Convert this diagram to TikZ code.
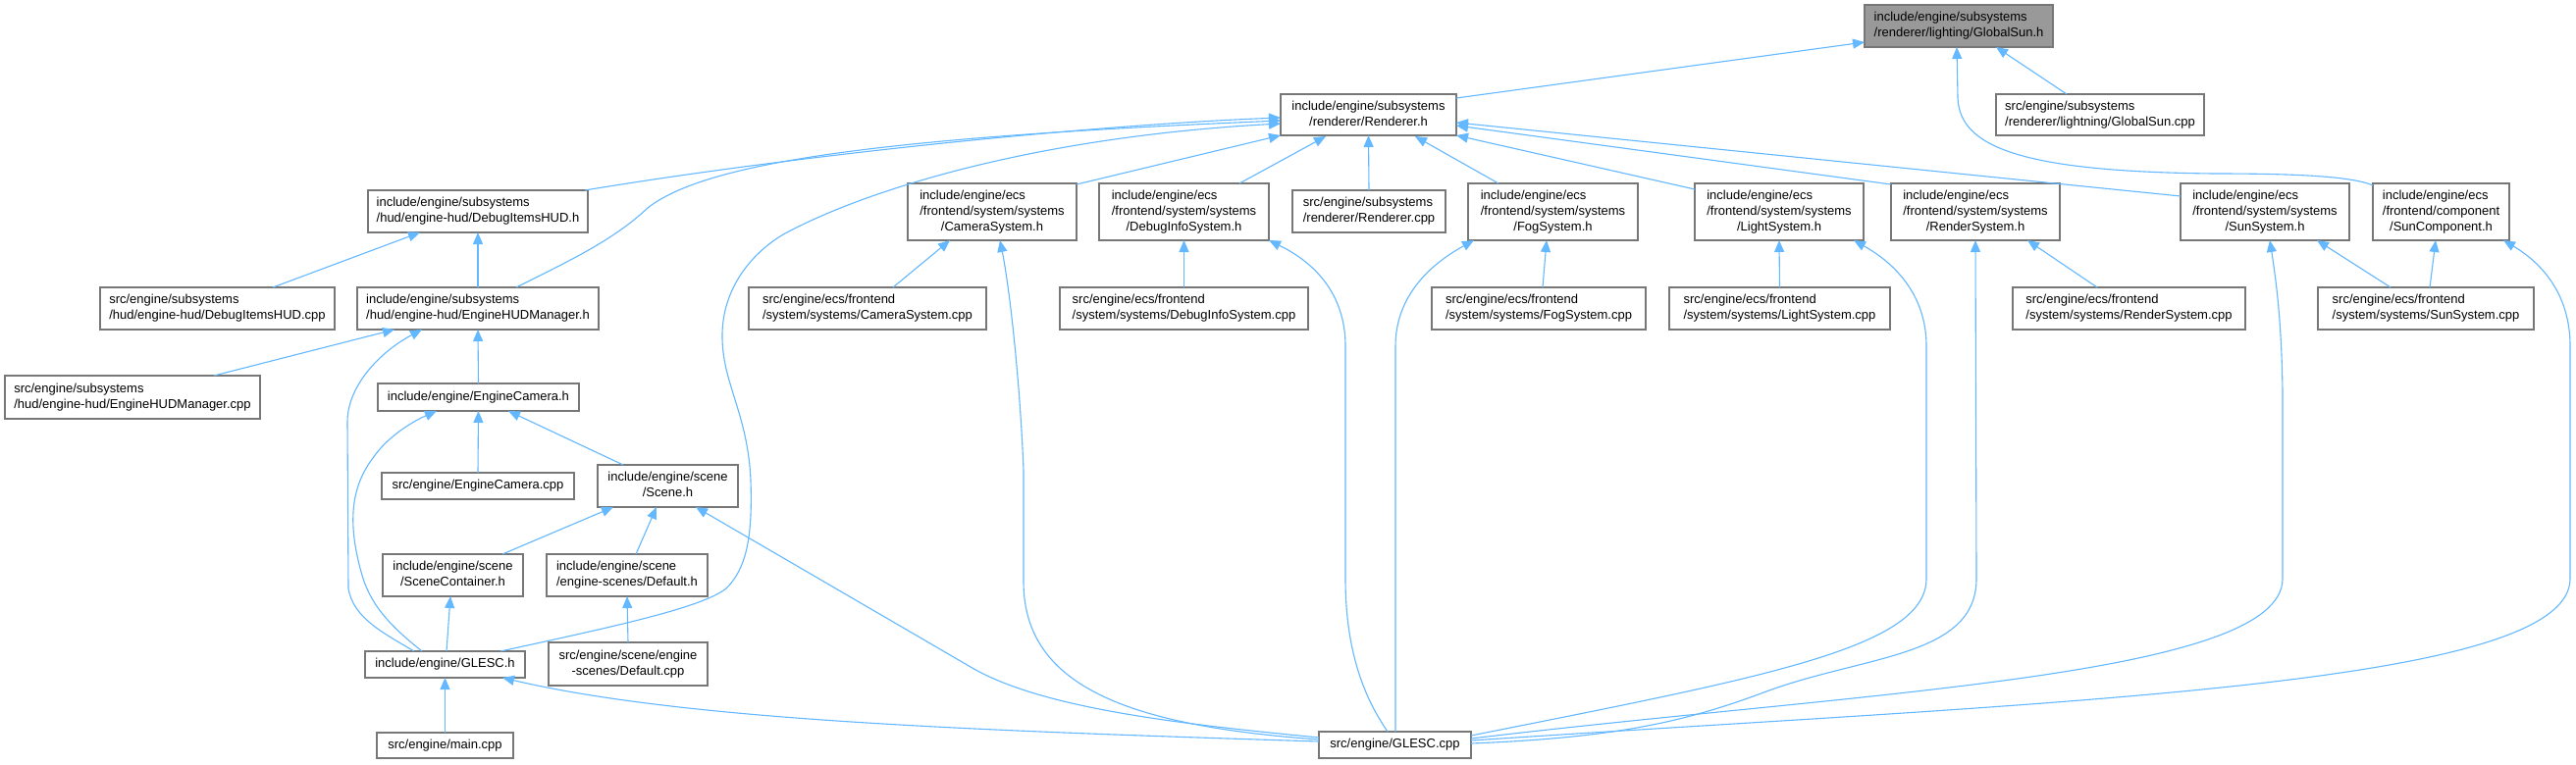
\documentclass[tikz,border=0pt]{standalone}
\usepackage{fontspec}
\setmainfont{Liberation Sans}
\usetikzlibrary{arrows.meta,calc}
\definecolor{edgec}{HTML}{63B8FF}
\definecolor{boxc}{HTML}{777777}
\definecolor{hlc}{HTML}{999999}
\newcommand{\Ltwo}[2]{\begin{tabular}{@{}l@{}}#1\\\multicolumn{1}{@{}c@{}}{#2}\end{tabular}}
\newcommand{\Lthree}[3]{\begin{tabular}{@{}l@{}}#1\\#2\\\multicolumn{1}{@{}c@{}}{#3}\end{tabular}}
\begin{document}
\begin{tikzpicture}[x=1pt,y=-1pt,
  nbox/.style={draw=boxc, line width=1.3pt, fill=white, inner sep=0pt, outer sep=0pt,
    anchor=north west, font=\fontsize{13}{16}\selectfont, text=black},
  dep/.style={draw=edgec, line width=1.1pt, -{Triangle[length=12pt,width=10pt]}},
]
\fill[white] (0,0) rectangle (2625,779);
\useasboundingbox (0,0) rectangle (2625,779);

% nodes
\node[nbox,fill=hlc,minimum width=192pt,minimum height=43pt] (gs) at (1900,5) {\Ltwo{include/engine/subsystems}{/renderer/lighting/GlobalSun.h}};
\node[nbox,minimum width=179pt,minimum height=42pt] (rend) at (1305,96) {\Ltwo{include/engine/subsystems}{/renderer/Renderer.h}};
\node[nbox,minimum width=212pt,minimum height=42pt] (gscpp) at (2034,96) {\Ltwo{src/engine/subsystems}{/renderer/lightning/GlobalSun.cpp}};
\node[nbox,minimum width=224pt,minimum height=43pt] (dihud) at (375,194) {\Ltwo{include/engine/subsystems}{/hud/engine-hud/DebugItemsHUD.h}};
\node[nbox,minimum width=172pt,minimum height=58pt] (camsys) at (925,187) {\Lthree{include/engine/ecs}{/frontend/system/systems}{/CameraSystem.h}};
\node[nbox,minimum width=173pt,minimum height=58pt] (dbgsys) at (1120,187) {\Lthree{include/engine/ecs}{/frontend/system/systems}{/DebugInfoSystem.h}};
\node[nbox,minimum width=156pt,minimum height=43pt] (rendcpp) at (1317,194) {\Ltwo{src/engine/subsystems}{/renderer/Renderer.cpp}};
\node[nbox,minimum width=173pt,minimum height=58pt] (fog) at (1496,187) {\Lthree{include/engine/ecs}{/frontend/system/systems}{/FogSystem.h}};
\node[nbox,minimum width=172pt,minimum height=58pt] (light) at (1727,187) {\Lthree{include/engine/ecs}{/frontend/system/systems}{/LightSystem.h}};
\node[nbox,minimum width=172pt,minimum height=58pt] (rsys) at (1927,187) {\Lthree{include/engine/ecs}{/frontend/system/systems}{/RenderSystem.h}};
\node[nbox,minimum width=172pt,minimum height=58pt] (sun) at (2222,187) {\Lthree{include/engine/ecs}{/frontend/system/systems}{/SunSystem.h}};
\node[nbox,minimum width=139pt,minimum height=58pt] (sunc) at (2418,187) {\Lthree{include/engine/ecs}{/frontend/component}{/SunComponent.h}};
\node[nbox,minimum width=239pt,minimum height=43pt] (dihudcpp) at (102,293) {\Ltwo{src/engine/subsystems}{/hud/engine-hud/DebugItemsHUD.cpp}};
\node[nbox,minimum width=246pt,minimum height=43pt] (ehm) at (364,293) {\Ltwo{include/engine/subsystems}{/hud/engine-hud/EngineHUDManager.h}};
\node[nbox,minimum width=242pt,minimum height=43pt] (camcpp) at (763,293) {\Ltwo{src/engine/ecs/frontend}{/system/systems/CameraSystem.cpp}};
\node[nbox,minimum width=253pt,minimum height=43pt] (dbgcpp) at (1080,293) {\Ltwo{src/engine/ecs/frontend}{/system/systems/DebugInfoSystem.cpp}};
\node[nbox,minimum width=218pt,minimum height=43pt] (fogcpp) at (1459,293) {\Ltwo{src/engine/ecs/frontend}{/system/systems/FogSystem.cpp}};
\node[nbox,minimum width=225pt,minimum height=43pt] (lightcpp) at (1701,293) {\Ltwo{src/engine/ecs/frontend}{/system/systems/LightSystem.cpp}};
\node[nbox,minimum width=237pt,minimum height=43pt] (rsyscpp) at (2051,293) {\Ltwo{src/engine/ecs/frontend}{/system/systems/RenderSystem.cpp}};
\node[nbox,minimum width=220pt,minimum height=43pt] (suncpp) at (2362,293) {\Ltwo{src/engine/ecs/frontend}{/system/systems/SunSystem.cpp}};
\node[nbox,minimum width=260pt,minimum height=44pt] (ehmcpp) at (5,383) {\Ltwo{src/engine/subsystems}{/hud/engine-hud/EngineHUDManager.cpp}};
\node[nbox,minimum width=205pt,minimum height=28pt] (ecam) at (385,391) {include/engine/EngineCamera.h};
\node[nbox,minimum width=196pt,minimum height=27pt] (ecamcpp) at (389,482) {src/engine/EngineCamera.cpp};
\node[nbox,minimum width=143pt,minimum height=43pt] (scene) at (609,474) {\Ltwo{include/engine/scene}{/Scene.h}};
\node[nbox,minimum width=143pt,minimum height=43pt] (scont) at (390,565) {\Ltwo{include/engine/scene}{/SceneContainer.h}};
\node[nbox,minimum width=164pt,minimum height=43pt] (defh) at (557,565) {\Ltwo{include/engine/scene}{/engine-scenes/Default.h}};
\node[nbox,minimum width=163pt,minimum height=27pt] (glesch) at (372,664) {include/engine/GLESC.h};
\node[nbox,minimum width=162pt,minimum height=44pt] (defcpp) at (559,655) {\Ltwo{src/engine/scene/engine}{-scenes/Default.cpp}};
\node[nbox,minimum width=139pt,minimum height=26pt] (maincpp) at (384,747) {src/engine/main.cpp};
\node[nbox,minimum width=155pt,minimum height=27pt] (glesccpp) at (1344,746) {src/engine/GLESC.cpp};

% edges
\draw[dep] ($(rend.north east)+(0,4)$) -- ($(gs.north west)+(0,38)$);
\draw[dep] ($(gscpp.north west)+(72,0)$) -- ($(gs.north west)+(134,43)$);
\draw[dep] ($(sunc.north west)+(0,2)$) .. controls (2395,179) and (2330,177) .. (2256,177) .. controls (2060,175) and (1997,150) .. (1995,100) -- ($(gs.north west)+(94,43)$);

\draw[dep] ($(dihud.north west)+(221,0)$) .. controls (800,160) and (1100,128) .. ($(rend.north west)+(0,24)$);
\draw[dep] ($(ehm.north west)+(162,0)$) .. controls (580,266) and (625,245) .. (660,212) .. controls (720,165) and (900,140) .. ($(rend.north west)+(0,27)$);
\draw[dep] ($(glesch.north west)+(138,0)$) .. controls (620,640) and (715,620) .. (740,600) .. controls (760,580) and (767,550) .. (765,490) .. controls (762,420) and (735,390) .. (736,340) .. controls (737,290) and (770,255) .. (800,238) .. controls (880,195) and (1050,140) .. ($(rend.north west)+(0,30)$);
\draw[dep] ($(camsys.north east)+(0,1)$) -- (rend.south west);
\draw[dep] ($(dbgsys.north west)+(143,0)$) -- ($(rend.north west)+(46,43)$);
\draw[dep] (rendcpp.north) -- (rend.south);
\draw[dep] ($(fog.north west)+(31,0)$) -- ($(rend.north west)+(137,43)$);
\draw[dep] ($(light.north west)+(0,6)$) -- (rend.south east);
\draw[dep] ($(rsys.north west)+(0,1)$) -- ($(rend.north west)+(179,32)$);
\draw[dep] ($(sun.north west)+(0,13)$) -- ($(rend.north west)+(179,29)$);

\draw[dep] ($(dihudcpp.north west)+(176,0)$) -- ($(dihud.north west)+(53,43)$);
\draw[dep] (ehm.north) -- (dihud.south);

\draw[dep] ($(camcpp.north west)+(147,0)$) -- ($(camsys.north west)+(43,58)$);
\draw[dep] ($(glesccpp.north west)+(0,8)$) .. controls (1150,740) and (1043,700) .. (1043,593) -- (1043,480) .. controls (1040,400) and (1030,300) .. ($(camsys.north west)+(94,58)$);
\draw[dep] (dbgcpp.north) -- (dbgsys.south);
\draw[dep] ($(glesccpp.north west)+(70,0)$) .. controls (1400,725) and (1371,680) .. (1371,590) -- (1371,353) .. controls (1371,300) and (1340,268) .. (dbgsys.south east);
\draw[dep] ($(fogcpp.north west)+(113,0)$) -- ($(fog.north west)+(80,58)$);
\draw[dep] ($(glesccpp.north west)+(78,0)$) -- (1422,353) .. controls (1422,300) and (1460,268) .. ($(fog.north west)+(6,58)$);
\draw[dep] (lightcpp.north) -- (light.south);
\draw[dep] ($(glesccpp.north east)+(0,4)$) .. controls (1800,690) and (1963,660) .. (1963,590) -- (1963,353) .. controls (1963,300) and (1930,268) .. ($(light.north west)+(162,58)$);
\draw[dep] ($(rsyscpp.north west)+(86,0)$) -- ($(rsys.north west)+(139,58)$);
\draw[dep] ($(glesccpp.north east)+(0,12)$) .. controls (1650,752) and (1720,735) .. (1800,705) .. controls (1900,668) and (2014,670) .. (2014,590) -- (rsys.south);
\draw[dep] ($(suncpp.north west)+(74,0)$) -- ($(sun.north west)+(139,58)$);
\draw[dep] ($(glesccpp.north east)+(0,7)$) .. controls (1900,705) and (2326,690) .. (2326,590) -- (2326,400) .. controls (2325,330) and (2320,290) .. ($(sun.north west)+(91,58)$);
\draw[dep] ($(suncpp.north west)+(114,0)$) -- ($(sunc.north west)+(64,58)$);
\draw[dep] ($(glesccpp.north east)+(0,9)$) .. controls (2100,715) and (2619,700) .. (2619,590) -- (2619,353) .. controls (2619,300) and (2590,268) .. ($(sunc.north west)+(133,58)$);

\draw[dep] ($(ehmcpp.north west)+(213,0)$) -- ($(ehm.north west)+(38,43)$);
\draw[dep] (ecam.north) -- (ehm.south);
\draw[dep] ($(glesch.north west)+(50,0)$) .. controls (390,645) and (360,630) .. (355,600) -- (354,430) .. controls (354,395) and (385,360) .. ($(ehm.north west)+(66,43)$);
\draw[dep] (ecamcpp.north) -- (ecam.south);
\draw[dep] ($(scene.north west)+(26,0)$) -- ($(ecam.north west)+(133,28)$);
\draw[dep] ($(glesch.north west)+(58,0)$) .. controls (400,640) and (380,620) .. (370,590) .. controls (355,540) and (355,500) .. (380,467) .. controls (395,445) and (420,430) .. ($(ecam.north west)+(60,28)$);
\draw[dep] ($(scont.north west)+(122,0)$) -- ($(scene.north west)+(16,43)$);
\draw[dep] ($(defh.north west)+(91,0)$) -- ($(scene.north west)+(60,43)$);
\draw[dep] ($(glesccpp.north west)+(0,6)$) .. controls (1200,738) and (1060,722) .. (989,680) -- ($(scene.north west)+(100,43)$);
\draw[dep] ($(glesccpp.north west)+(0,10)$) .. controls (1000,745) and (700,735) .. ($(glesch.north west)+(140,27)$);
\draw[dep] ($(glesch.north west)+(83,0)$) -- ($(scont.north west)+(69,43)$);
\draw[dep] (defcpp.north) -- (defh.south);
\draw[dep] (maincpp.north) -- (glesch.south);
\end{tikzpicture}
\end{document}
